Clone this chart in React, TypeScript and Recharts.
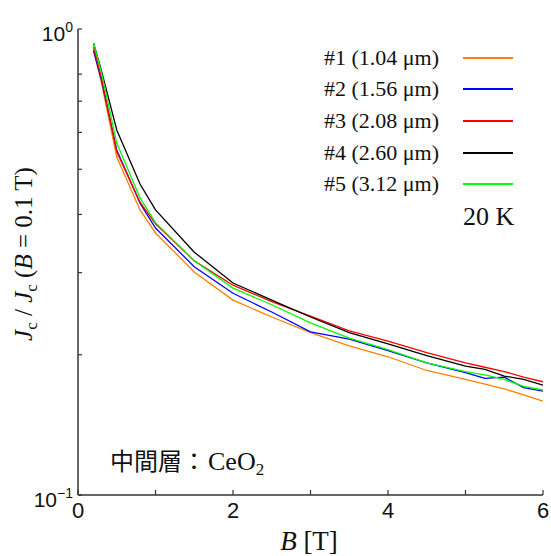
import { LineChart, Line, XAxis, YAxis, Legend } from 'recharts'

const fieldB = [0.2, 0.3, 0.5, 0.8, 1, 1.5, 2, 2.5, 3, 3.5, 4, 4.5, 5, 5.25, 5.5, 5.75, 6]
const s1 = [0.9, 0.77, 0.531, 0.409, 0.365, 0.301, 0.262, 0.241, 0.223, 0.209, 0.198, 0.185, 0.177, 0.173, 0.169, 0.164, 0.159]
const s2 = [0.9, 0.78, 0.55, 0.423, 0.374, 0.309, 0.271, 0.247, 0.224, 0.216, 0.204, 0.192, 0.183, 0.178, 0.179, 0.17, 0.167]
const s3 = [0.915, 0.79, 0.545, 0.425, 0.382, 0.318, 0.282, 0.26, 0.242, 0.225, 0.214, 0.202, 0.192, 0.188, 0.184, 0.179, 0.175]
const s4 = [0.933, 0.817, 0.607, 0.465, 0.409, 0.332, 0.285, 0.262, 0.241, 0.223, 0.211, 0.199, 0.189, 0.186, 0.18, 0.177, 0.172]
const s5 = [0.933, 0.81, 0.569, 0.434, 0.384, 0.318, 0.278, 0.256, 0.234, 0.217, 0.205, 0.192, 0.184, 0.181, 0.177, 0.171, 0.168]

const seriesKeys = ['s1', 's2', 's3', 's4', 's5']
const seriesNames = ['#1 (1.04 μm)', '#2 (1.56 μm)', '#3 (2.08 μm)', '#4 (2.60 μm)', '#5 (3.12 μm)']
const seriesColors = ['#ff8000', '#0000ff', '#ff0000', '#000000', '#00ff00']

const xTicks = [0, 1, 2, 3, 4, 5, 6]
const yTicks = [0.1, 0.2, 0.3, 0.4, 0.5, 0.6, 0.7, 0.8, 0.9, 1]

const data = fieldB.map((b, i) => ({ b, s1: s1[i], s2: s2[i], s3: s3[i], s4: s4[i], s5: s5[i] }))

const serif = '"Liberation Serif", "Times New Roman", serif'
const sans = '"Liberation Sans", Arial, sans-serif'
const axisColor = '#333'

const BottomTick = ({ x, y, payload }: any) => (
  <g>
    <line x1={x} x2={x} y1={y} y2={y - 5} stroke={axisColor} strokeWidth={1.2} />
    {payload.value % 2 === 0 && (
      <text x={x} y={y + 23} textAnchor="middle" fontFamily={sans} fontSize={22} fill="#111">{payload.value}</text>
    )}
  </g>
)

const TopTick = ({ x, y }: any) => (
  <line x1={x} x2={x} y1={y} y2={y + 5} stroke={axisColor} strokeWidth={1.2} />
)

const LeftTick = ({ x, y, payload }: any) => {
  const v = payload.value
  const major = v === 1 || v === 0.1
  return (
    <g>
      <line x1={x} x2={x + 4} y1={y} y2={y} stroke={axisColor} strokeWidth={1.2} />
      {major && (
        <text x={x - 5} y={y + 12} textAnchor="end" fontFamily={sans} fontSize={21} fill="#111">
          10<tspan dy={-9} fontSize={14}>{v === 1 ? '0' : '−1'}</tspan>
        </text>
      )}
    </g>
  )
}

const RightTick = ({ x, y }: any) => (
  <line x1={x} x2={x - 4} y1={y} y2={y} stroke={axisColor} strokeWidth={1.2} />
)

const renderLegend = () => (
  <div style={{ fontFamily: serif, fontSize: 22, color: '#111' }}>
    {seriesNames.map((n, i) => (
      <div key={n} style={{ display: 'flex', alignItems: 'center', height: 31.6 }}>
        <span style={{ width: 139, whiteSpace: 'nowrap' }}>{n}</span>
        <span style={{ width: 50, height: 2, background: seriesColors[i] }} />
      </div>
    ))}
  </div>
)

export default function App() {
  return (
    <div style={{ position: 'absolute', left: 0, top: 0, width: 551, height: 556, background: '#fff' }}>
      <LineChart width={551} height={556} data={data} margin={{ top: 29, right: 8, left: 0, bottom: 0 }}>
        <XAxis dataKey="b" type="number" domain={[0, 6]} ticks={xTicks} allowDataOverflow height={61}
          tickSize={0} tickMargin={0} tick={<BottomTick />} axisLine={{ stroke: axisColor, strokeWidth: 1.5 }} />
        <XAxis xAxisId="top" orientation="top" dataKey="b" type="number" domain={[0, 6]} ticks={xTicks} allowDataOverflow height={0}
          tickSize={0} tickMargin={0} tick={<TopTick />} axisLine={{ stroke: axisColor, strokeWidth: 1.5 }} />
        <YAxis type="number" scale="log" domain={[0.1, 1]} ticks={yTicks} allowDataOverflow width={78}
          tickSize={0} tickMargin={0} tick={<LeftTick />} axisLine={{ stroke: axisColor, strokeWidth: 1.5 }} />
        <YAxis yAxisId="right" orientation="right" type="number" scale="log" domain={[0.1, 1]} ticks={yTicks} allowDataOverflow width={0}
          tickSize={0} tickMargin={0} tick={<RightTick />} axisLine={{ stroke: axisColor, strokeWidth: 1.5 }} />
        <Legend layout="vertical" align="center" verticalAlign="middle" content={renderLegend}
          wrapperStyle={{ top: 42, left: 324, width: 200, height: 160 }} />
        {seriesKeys.map((k, i) => (
          <Line key={k} dataKey={k} name={seriesNames[i]} stroke={seriesColors[i]} strokeWidth={1.3}
            type="linear" dot={false} isAnimationActive={false} />
        ))}
      </LineChart>
      <svg width={551} height={556} style={{ position: 'absolute', left: 0, top: 0, pointerEvents: 'none' }}>
        <text transform="translate(32,254) rotate(-90)" textAnchor="middle" fontFamily={serif} fontSize={25} fill="#111">
          <tspan fontStyle="italic">J</tspan><tspan fontSize={17} dy={5}>c</tspan>
          <tspan dy={-5}> / </tspan><tspan fontStyle="italic">J</tspan><tspan fontSize={17} dy={5}>c</tspan>
          <tspan dy={-5}> (</tspan><tspan fontStyle="italic">B</tspan><tspan> = 0.1 T)</tspan>
        </text>
        <text x={309} y={550} textAnchor="middle" fontFamily={serif} fontSize={27} fill="#111">
          <tspan fontStyle="italic">B</tspan><tspan> [T]</tspan>
        </text>
        <text x={463} y={225} fontFamily={serif} fontSize={26} fill="#111">20 K</text>
        <text x={110} y={470} fontSize={24} fill="#111">
          <tspan fontFamily={'"Noto Sans CJK JP", sans-serif'}>中間層：</tspan>
          <tspan fontFamily={serif} fontSize={26} dx={2}>CeO</tspan><tspan fontFamily={serif} fontSize={17} dy={5}>2</tspan>
        </text>
      </svg>
    </div>
  )
}
